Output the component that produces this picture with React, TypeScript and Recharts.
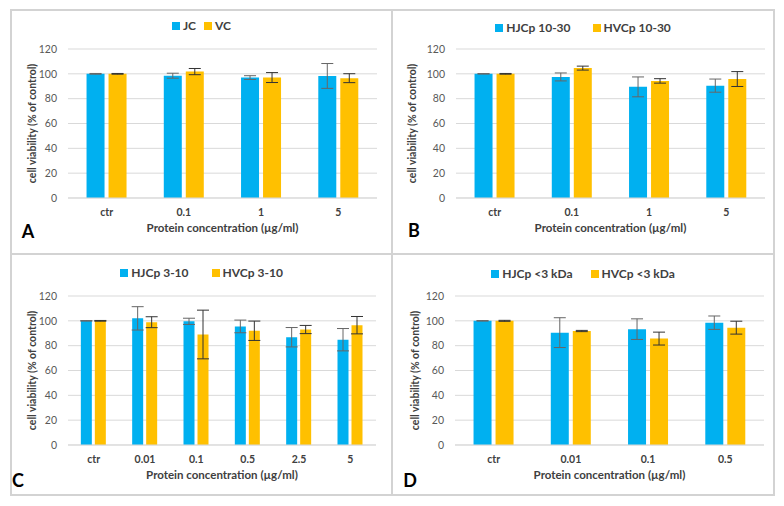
import React from "react";
import {
  Bar,
  BarChart,
  CartesianGrid,
  ErrorBar,
  Label,
  Legend,
  XAxis,
  YAxis
} from "recharts";

const BLUE = "#00B0F0";
const GOLD = "#FFC000";
const FONT = "Lato, 'Open Sans', sans-serif";

const yTicks = [0, 20, 40, 60, 80, 100, 120];
const xTitle = "Protein concentration (µg/ml)";
const yTitle = "cell viability (% of control)";

// panel A
const catsA = ["ctr", "0.1", "1", "5"];
const jcMean = [100, 98.5, 97, 98.3];
const jcSd = [0.3, 2, 1.5, 10];
const vcMean = [100, 101.8, 97, 96.5];
const vcSd = [0.3, 2.5, 4, 3.6];

// panel B
const catsB = ["ctr", "0.1", "1", "5"];
const hjcp1030Mean = [100, 97.5, 89.5, 90.5];
const hjcp1030Sd = [0.2, 3.2, 8, 5.3];
const hvcp1030Mean = [100, 104.6, 94.3, 95.8];
const hvcp1030Sd = [0.3, 1.6, 1.8, 6];

// panel C
const catsC = ["ctr", "0.01", "0.1", "0.5", "2.5", "5"];
const hjcp310Mean = [100, 102, 99.6, 95.5, 86.8, 84.8];
const hjcp310Sd = [0.2, 9.4, 2.5, 5.1, 7.8, 9];
const hvcp310Mean = [100, 98.9, 89, 92, 93, 96.5];
const hvcp310Sd = [0.3, 4.4, 19.6, 7.8, 3.3, 7];

// panel D
const catsD = ["ctr", "0.01", "0.1", "0.5"];
const hjcp3Mean = [100, 90.5, 93.3, 98.5];
const hjcp3Sd = [0.2, 12, 8.3, 5.4];
const hvcp3Mean = [100, 91.8, 85.7, 94.5];
const hvcp3Sd = [0.4, 0.5, 5.2, 5.2];

const makeLegend = (gap: number) => (props: any) => (
  <div
    style={{
      display: "flex",
      justifyContent: "center",
      gap,
      fontFamily: FONT,
      fontWeight: 700,
      fontSize: 12,
      color: "#404040",
      lineHeight: "16px"
    }}
  >
    {(props.payload || []).map((p: any) => (
      <span key={p.value} style={{ display: "flex", alignItems: "center" }}>
        <span
          style={{ width: 8, height: 8, background: p.color, marginRight: 3 }}
        />
        {p.value}
      </span>
    ))}
  </div>
);

type PanelProps = {
  letter: string;
  left: number;
  top: number;
  width: number;
  height: number;
  cats: string[];
  names: string[];
  means: number[][];
  sds: number[][];
  yAxisWidth: number;
  marginTop: number;
  marginRight: number;
  xAxisHeight: number;
  legendTop: number;
  legendGap: number;
  yTitleX: number;
  letterX: number;
  letterY: number;
  barGap: number;
  barCategoryGap: string;
};

const Panel = (p: PanelProps) => {
  const data = p.cats.map((c, i) => ({
    cat: c,
    s0: p.means[0][i],
    e0: p.sds[0][i],
    s1: p.means[1][i],
    e1: p.sds[1][i]
  }));

  return (
    <div style={{ position: "absolute", left: p.left, top: p.top }}>
      <BarChart
        width={p.width}
        height={p.height}
        data={data}
        margin={{ top: p.marginTop, right: p.marginRight, bottom: 0, left: 0 }}
        barGap={p.barGap}
        barCategoryGap={p.barCategoryGap}
      >
        <CartesianGrid vertical={false} stroke="#d9d9d9" />
        <Legend
          verticalAlign="middle"
          content={makeLegend(p.legendGap)}
          wrapperStyle={{ top: p.legendTop, left: 0, width: p.width }}
        />
        <XAxis
          dataKey="cat"
          height={p.xAxisHeight}
          interval={0}
          tickLine={false}
          tickSize={0}
          tickMargin={11}
          axisLine={{ stroke: "#d9d9d9" }}
          tick={{ fontSize: 10.5, fontWeight: 700, fill: "#404040", fontFamily: FONT }}
        >
          <Label
            value={xTitle}
            position="insideTop"
            offset={26}
            style={{ fontSize: 11.5, fontWeight: 700, fill: "#404040", fontFamily: FONT }}
          />
        </XAxis>
        <YAxis
          width={p.yAxisWidth}
          domain={[0, 120]}
          ticks={yTicks}
          axisLine={false}
          tickLine={false}
          tickSize={0}
          tickMargin={11}
          tick={{ fontSize: 10.5, fill: "#595959", fontFamily: FONT }}
        >
          <Label
            value={yTitle}
            angle={-90}
            position="insideLeft"
            offset={p.yTitleX}
            style={{
              textAnchor: "middle",
              fontSize: 10.5,
              fontWeight: 700,
              fill: "#404040",
              fontFamily: FONT
            }}
          />
        </YAxis>
        <Bar dataKey="s0" name={p.names[0]} fill={BLUE} isAnimationActive={false}>
          <ErrorBar
            dataKey="e0"
            direction="y"
            width={6}
            stroke="#666"
            strokeWidth={1}
            isAnimationActive={false}
          />
        </Bar>
        <Bar dataKey="s1" name={p.names[1]} fill={GOLD} isAnimationActive={false}>
          <ErrorBar
            dataKey="e1"
            direction="y"
            width={6}
            stroke="#333"
            strokeWidth={1}
            isAnimationActive={false}
          />
        </Bar>
      </BarChart>
      <div
        style={{
          position: "absolute",
          left: p.letterX,
          top: p.letterY,
          transform: "translate(-50%, -50%)",
          fontFamily: FONT,
          fontWeight: 700,
          fontSize: 18,
          color: "#000",
          lineHeight: 1
        }}
      >
        {p.letter}
      </div>
    </div>
  );
};

export default function App() {
  const line = "#d3d3d3";
  return (
    <div
      style={{
        position: "absolute",
        left: 0,
        top: 0,
        width: 784,
        height: 506,
        background: "#fff",
        fontFamily: FONT
      }}
    >
      <div
        style={{
          position: "absolute",
          left: 10,
          top: 9,
          width: 765,
          height: 487,
          border: `2px solid ${line}`,
          boxSizing: "border-box"
        }}
      />
      <div style={{ position: "absolute", left: 391, top: 9, width: 2, height: 487, background: line }} />
      <div style={{ position: "absolute", left: 10, top: 253, width: 765, height: 2, background: line }} />

      <Panel
        letter="A"
        left={11}
        top={10}
        width={381}
        height={244}
        cats={catsA}
        names={["JC", "VC"]}
        means={[jcMean, vcMean]}
        sds={[jcSd, vcSd]}
        yAxisWidth={57}
        marginTop={39}
        marginRight={15}
        xAxisHeight={56}
        legendTop={8}
        legendGap={8}
        yTitleX={21}
        letterX={17}
        letterY={221}
        barGap={4}
        barCategoryGap="24%"
      />
      <Panel
        letter="B"
        left={392}
        top={10}
        width={382}
        height={244}
        cats={catsB}
        names={["HJCp 10-30", "HVCp 10-30"]}
        means={[hjcp1030Mean, hvcp1030Mean]}
        sds={[hjcp1030Sd, hvcp1030Sd]}
        yAxisWidth={64}
        marginTop={39}
        marginRight={9}
        xAxisHeight={56}
        legendTop={10}
        legendGap={22}
        yTitleX={20}
        letterX={22}
        letterY={220}
        barGap={4}
        barCategoryGap="24%"
      />
      <Panel
        letter="C"
        left={11}
        top={254}
        width={381}
        height={241}
        cats={catsC}
        names={["HJCp 3-10", "HVCp 3-10"]}
        means={[hjcp310Mean, hvcp310Mean]}
        sds={[hjcp310Sd, hvcp310Sd]}
        yAxisWidth={57}
        marginTop={42}
        marginRight={16}
        xAxisHeight={50}
        legendTop={11}
        legendGap={23}
        yTitleX={21}
        letterX={7}
        letterY={226}
        barGap={3}
        barCategoryGap="25%"
      />
      <Panel
        letter="D"
        left={392}
        top={254}
        width={382}
        height={241}
        cats={catsD}
        names={["HJCp <3 kDa", "HVCp <3 kDa"]}
        means={[hjcp3Mean, hvcp3Mean]}
        sds={[hjcp3Sd, hvcp3Sd]}
        yAxisWidth={63}
        marginTop={42}
        marginRight={10}
        xAxisHeight={50}
        legendTop={12}
        legendGap={18}
        yTitleX={23}
        letterX={18}
        letterY={226}
        barGap={4}
        barCategoryGap="24%"
      />
    </div>
  );
}
